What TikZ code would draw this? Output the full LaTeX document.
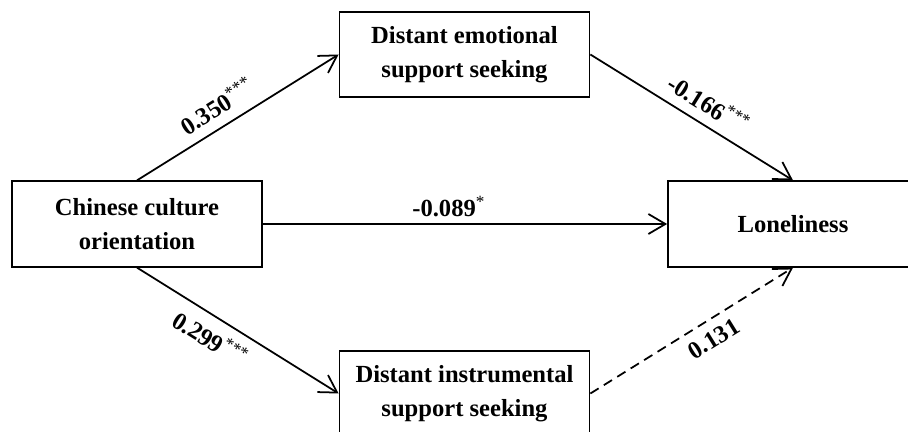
\documentclass[tikz,border=0pt]{standalone}
\usepackage{fontspec}
\setmainfont{Liberation Serif}
\usepackage{tikz}
\usetikzlibrary{arrows.meta}

\begin{document}
\begin{tikzpicture}[
    font=\fontsize{14pt}{19pt}\selectfont\bfseries,
    var/.style={
        rectangle,
        draw=black,
        line width=1pt,
        minimum width=5.0cm,
        minimum height=1.71cm,
        align=center
    },
    eff/.style={-{Straight Barb[length=3.4mm, width=4mm]}, line width=1pt},
    nseff/.style={eff, dash pattern=on 5.5pt off 3.5pt},
    coef/.style={sloped, inner sep=5.5pt}
]

\def\xl{2.74}
\def\xm{9.29}
\def\xr{15.86}

\useasboundingbox (0,0) rectangle (18.16,-8.64);

% Variables
\node[var] (cco) at (\xl, -4.48) {Chinese culture \\ orientation};
\node[var] (emo) at (\xm, -1.09) {Distant emotional \\ support seeking};
\node[var] (ins) at (\xm, -7.87) {Distant instrumental \\ support seeking};
\node[var] (lon) at (\xr, -4.48) {Loneliness};

% Paths
\draw[eff] (cco.north) -- node[coef, above, pos=0.45] {0.350\textsuperscript{\mdseries ***}} (emo.west);
\draw[eff] (emo.east) -- node[coef, above, pos=0.53] {-0.166\textsuperscript{\mdseries ***}} (lon.north);
\draw[eff] (cco.east) -- node[above, pos=0.46] {-0.089\textsuperscript{\mdseries *}} (lon.west);
\draw[eff] (cco.south) -- node[coef, below, pos=0.42] {0.299\textsuperscript{\mdseries ***}} (ins.west);
\draw[nseff] (ins.east) -- node[coef, below, pos=0.56] {0.131} (lon.south);

\end{tikzpicture}
\end{document}
